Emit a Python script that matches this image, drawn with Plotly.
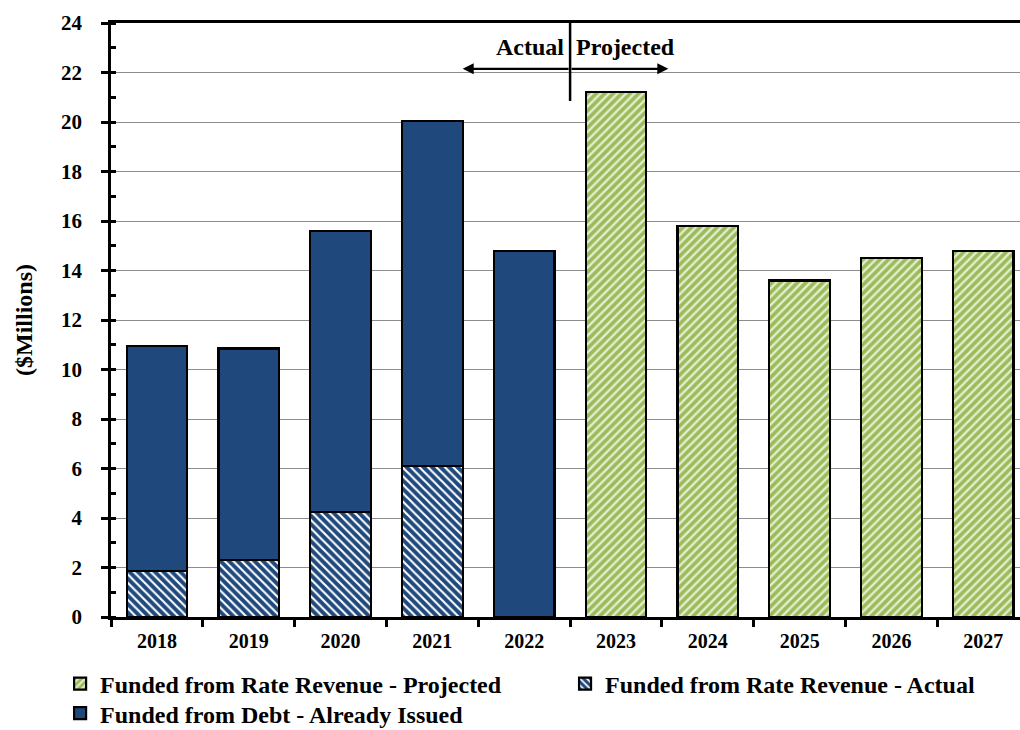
import plotly.graph_objects as go

years = ["2018", "2019", "2020", "2021", "2022", "2023", "2024", "2025", "2026", "2027"]
actual_years = ["2018", "2019", "2020", "2021"]
actual_rate = [1.85, 2.3, 4.25, 6.1]
debt_years = ["2018", "2019", "2020", "2021", "2022"]
debt_issued = [9.1, 8.55, 11.35, 13.95, 14.8]
proj_years = ["2023", "2024", "2025", "2026", "2027"]
proj_rate = [21.2, 15.8, 13.6, 14.5, 14.8]

BLUE = "#1F497D"
GREEN = "#9BBB59"
FONT = "Liberation Serif, Times New Roman, serif"

fig = go.Figure()
fig.add_trace(go.Bar(
    x=proj_years, y=proj_rate, name="<b>Funded from Rate Revenue - Projected</b>",
    marker=dict(color=GREEN, line=dict(color="black", width=2.2),
                pattern=dict(shape="/", bgcolor=GREEN, fgcolor="#E4EDD0", size=6, solidity=0.4, fillmode="replace")),
    width=0.66, legend="legend"))
fig.add_trace(go.Bar(
    x=actual_years, y=actual_rate, name="<b>Funded from Rate Revenue - Actual</b>",
    marker=dict(color=BLUE, line=dict(color="black", width=2.2),
                pattern=dict(shape="\\", bgcolor=BLUE, fgcolor="#FFFFFF", size=6, solidity=0.35, fillmode="replace")),
    width=0.66, legend="legend2"))
fig.add_trace(go.Bar(
    x=debt_years, y=debt_issued, name="<b>Funded from Debt - Already Issued</b>",
    marker=dict(color=BLUE, line=dict(color="black", width=2.2)),
    width=0.66, legend="legend3"))

leg_font = dict(family=FONT, size=24, color="black")
fig.update_layout(
    barmode="stack",
    width=1020, height=730,
    margin=dict(l=111, r=0, t=23, b=113),
    plot_bgcolor="white", paper_bgcolor="white",
    font=dict(family=FONT, size=20, color="black"),
    showlegend=True,
    legend=dict(x=-0.056, xanchor="left", yref="container", y=0.0630, yanchor="middle", font=leg_font, bgcolor="rgba(0,0,0,0)"),
    legend2=dict(x=0.4995, xanchor="left", yref="container", y=0.0630, yanchor="middle", font=leg_font, bgcolor="rgba(0,0,0,0)"),
    legend3=dict(x=-0.056, xanchor="left", yref="container", y=0.0225, yanchor="middle", font=leg_font, bgcolor="rgba(0,0,0,0)"),
    xaxis=dict(type="category", categoryorder="array", categoryarray=years,
               range=[-0.5, 9.4], showline=True, linecolor="black", linewidth=2.5,
               mirror=True, ticks="outside", ticklen=7, tickwidth=2.5, tickcolor="black",
               tickson="boundaries", showgrid=False, tickprefix="<b>", ticksuffix="</b>",
               ticklabelstandoff=4,
               tickfont=dict(family=FONT, size=20, color="black")),
    yaxis=dict(range=[0, 24], dtick=2, showline=True, linecolor="black", linewidth=2.5,
               ticks="outside", ticklen=7, tickwidth=2.5, tickcolor="black",
               showgrid=True, gridcolor="#8C8C8C", gridwidth=1,
               minor=dict(dtick=1, ticks="inside", ticklen=5, tickwidth=2.5, tickcolor="black", showgrid=False),
               tickprefix="<b>", ticksuffix="</b>", ticklabelstandoff=15,
               tickfont=dict(family=FONT, size=21, color="black"),
               title=dict(text="<b>($Millions)</b>", font=dict(family=FONT, size=24, color="black"), standoff=22),
               zeroline=False),
)

fig.add_shape(type="line", xref="x", yref="y", x0=4.5, x1=4.5, y0=20.85, y1=24,
              line=dict(color="black", width=2.5))
for tail_x, head_x in [(4.5, 3.33), (4.5, 5.57)]:
    fig.add_annotation(x=head_x, y=22.15, ax=tail_x, ay=22.15, xref="x", yref="y",
                       axref="x", ayref="y", text="", showarrow=True,
                       arrowhead=2, arrowsize=1, arrowwidth=2.2, arrowcolor="black")
fig.add_annotation(x=4.46, y=23.05, xref="x", yref="y", text="<b>Actual</b>", showarrow=False,
                   xanchor="right", font=dict(family=FONT, size=24, color="black"))
fig.add_annotation(x=4.54, y=23.05, xref="x", yref="y", text="<b>Projected</b>", showarrow=False,
                   xanchor="left", font=dict(family=FONT, size=24, color="black"))

fig.write_html("out.html")
